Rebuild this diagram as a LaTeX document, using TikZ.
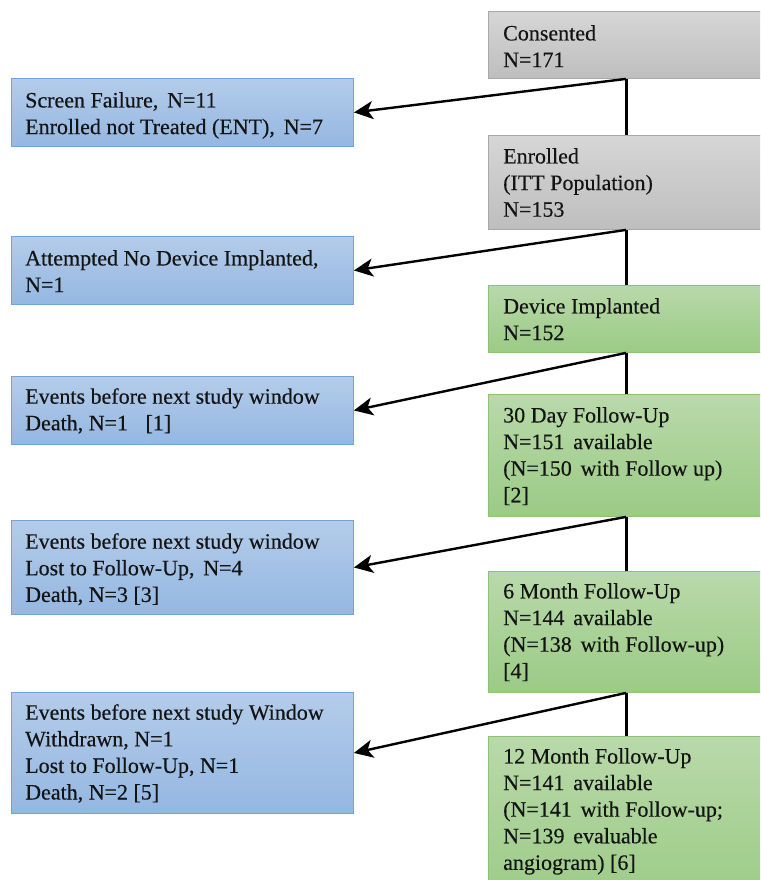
\documentclass[tikz,border=0pt]{standalone}
\usepackage{fontspec}
\setmainfont{Liberation Serif}[FakeBold=0.35]
\usetikzlibrary{arrows.meta}
\definecolor{grayT}{HTML}{D6D6D6}
\definecolor{grayB}{HTML}{BEBEBE}
\definecolor{grayE}{HTML}{A8A8A8}
\definecolor{blueT}{HTML}{B4CCEA}
\definecolor{blueB}{HTML}{94B7E1}
\definecolor{blueE}{HTML}{72A4DB}
\definecolor{greenT}{HTML}{B9D9AA}
\definecolor{greenB}{HTML}{9BCB85}
\definecolor{greenE}{HTML}{8CC275}
\definecolor{txtc}{HTML}{141414}
\newcommand{\dsp}{\hspace{0.4em}}
\tikzset{
  boxbase/.style={rectangle, inner sep=0pt, anchor=north west, line width=0.9pt},
  graybox/.style={boxbase, draw=grayE, top color=grayT, bottom color=grayB},
  bluebox/.style={boxbase, draw=blueE, top color=blueT, bottom color=blueB},
  greenbox/.style={boxbase, draw=greenE, top color=greenT, bottom color=greenB},
  txt/.style={anchor=north west, inner sep=0pt, align=left, text=txtc,
    font=\fontsize{22}{26.6}\selectfont},
  flow/.style={line width=3pt},
  branch/.style={line width=2.4pt, -{Stealth[length=19pt,width=18pt,inset=5pt]}}
}
\begin{document}
\begin{tikzpicture}[x=1pt,y=-1pt]
\useasboundingbox (0,0) rectangle (760,880);
\clip (0,0) rectangle (760,880);
\fill[white] (0,0) rectangle (760,880);
% right column
\node[graybox, minimum width=290pt, minimum height=67pt] (cons) at (488,11) {};
\node[graybox, minimum width=290pt, minimum height=94pt] (enr) at (488,135) {};
\node[greenbox, minimum width=290pt, minimum height=67pt] (dev) at (488,285) {};
\node[greenbox, minimum width=290pt, minimum height=122pt] (d30) at (488,394) {};
\node[greenbox, minimum width=290pt, minimum height=121pt] (m6) at (488,571) {};
\node[greenbox, minimum width=290pt, minimum height=170pt] (m12) at (488,736) {};
% left column
\node[bluebox, minimum width=342pt, minimum height=68pt] (scr) at (11,78) {};
\node[bluebox, minimum width=342pt, minimum height=68pt] (att) at (11,236) {};
\node[bluebox, minimum width=342pt, minimum height=68pt] (ev1) at (11,376) {};
\node[bluebox, minimum width=342pt, minimum height=94pt] (ev2) at (11,520) {};
\node[bluebox, minimum width=342pt, minimum height=121pt] (ev3) at (11,692) {};
% texts
\node[txt] (consT) at (503,25) {Consented\\N=171};
\node[txt] (enrT) at (503,148) {Enrolled\\(ITT Population)\\N=153};
\node[txt] (devT) at (503,298) {Device Implanted\\N=152};
\node[txt] (d30T) at (503,407) {30 Day Follow-Up\\N=151\dsp available\\(N=150\dsp with Follow up)\\{[2]}};
\node[txt] (m6T) at (503,583) {6 Month Follow-Up\\N=144\dsp available\\(N=138\dsp with Follow-up)\\{[4]}};
\node[txt] (m12T) at (503,748) {12 Month Follow-Up\\N=141\dsp available\\(N=141\dsp with Follow-up;\\N=139\dsp evaluable\\angiogram) [6]};
\node[txt] (scrT) at (25,92) {Screen Failure,\dsp N=11\\Enrolled not Treated (ENT),\dsp N=7};
\node[txt] (attT) at (25,250) {Attempted No Device Implanted,\\N=1};
\node[txt] (ev1T) at (25,388) {Events before next study window\\Death, N=1\hspace{12pt} [1]};
\node[txt] (ev2T) at (25,533) {Events before next study window\\Lost to Follow-Up,\dsp N=4\\Death, N=3 [3]};
\node[txt] (ev3T) at (25,704) {Events before next study Window\\Withdrawn, N=1\\Lost to Follow-Up, N=1\\Death, N=2 [5]};
% connectors
\coordinate (spine) at (626,0);
\draw[flow] (spine |- cons.south) -- (spine |- enr.north);
\draw[flow] (spine |- enr.south) -- (spine |- dev.north);
\draw[flow] (spine |- dev.south) -- (spine |- d30.north);
\draw[flow] (spine |- d30.south) -- (spine |- m6.north);
\draw[flow] (spine |- m6.south) -- (spine |- m12.north);
\draw[branch] (spine |- cons.south) -- (scr.east);
\draw[branch] (spine |- enr.south) -- (att.east);
\draw[branch] (spine |- dev.south) -- (ev1.east);
\draw[branch] (spine |- d30.south) -- (ev2.east);
\draw[branch] (spine |- m6.south) -- (ev3.east);
\end{tikzpicture}
\end{document}
